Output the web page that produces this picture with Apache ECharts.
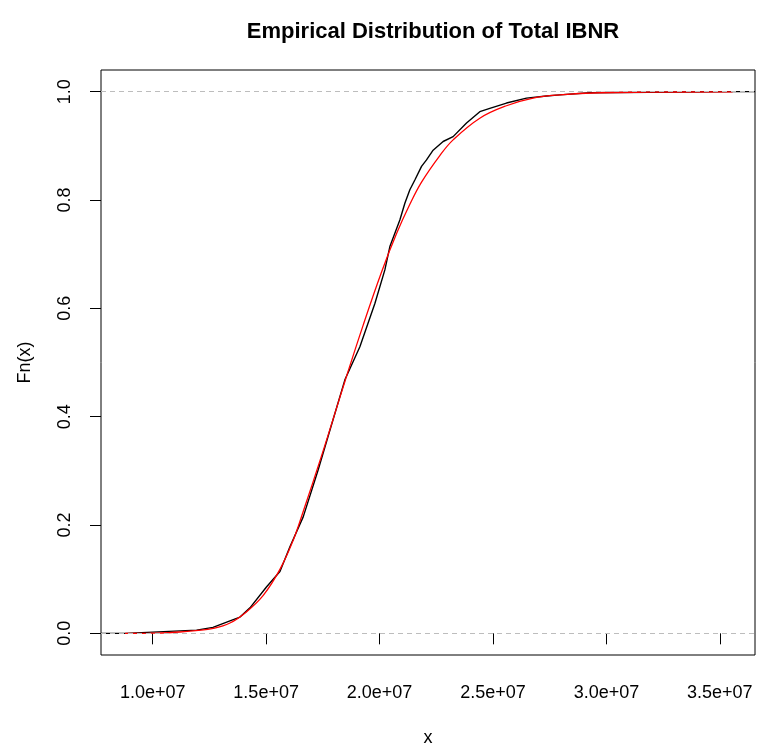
<!DOCTYPE html>
<html>
<head>
<meta charset="utf-8">
<script src="https://cdn.jsdelivr.net/npm/echarts@6/dist/echarts.min.js"></script>
<style>
html,body{margin:0;padding:0;background:#fff;}
#c{width:758px;height:744px;}
</style>
</head>
<body>
<div id="c"></div>
<script>
// Tick values and labels
var xTickValues = [1.0e7, 1.5e7, 2.0e7, 2.5e7, 3.0e7, 3.5e7];
var xTickLabels = ['1.0e+07', '1.5e+07', '2.0e+07', '2.5e+07', '3.0e+07', '3.5e+07'];
var yTickValues = [0, 0.2, 0.4, 0.6, 0.8, 1.0];
var yTickLabels = ['0.0', '0.2', '0.4', '0.6', '0.8', '1.0'];

// Empirical CDF (black)
var ecdfX = [7.72e6, 8.78e6, 1.1934e7, 1.2656e7, 1.3405e7, 1.3846e7, 1.4286e7, 1.5022e7, 1.5608e7, 1.6048e7,
  1.6634e7, 1.7295e7, 1.7811e7, 1.8471e7, 1.9132e7, 1.9793e7, 2.0233e7, 2.0454e7, 2.0894e7, 2.1115e7,
  2.1335e7, 2.1555e7, 2.1850e7, 2.2070e7, 2.2361e7, 2.2802e7, 2.3242e7, 2.3833e7, 2.4419e7, 2.4859e7,
  2.5595e7, 2.6476e7, 2.7357e7, 2.7943e7, 2.9265e7, 3.19e7, 3.5564e7, 3.655e7];
var ecdfY = [0, 0, 0.006, 0.011, 0.023, 0.030, 0.047, 0.086, 0.114, 0.160,
  0.215, 0.302, 0.375, 0.468, 0.529, 0.609, 0.671, 0.714, 0.763, 0.794,
  0.819, 0.837, 0.862, 0.874, 0.892, 0.908, 0.917, 0.942, 0.963, 0.969,
  0.979, 0.988, 0.992, 0.994, 0.998, 0.999, 1.0, 1.0];

// Fitted CDF (red)
var fitX = [8.78e6, 9.88e6, 1.12e7, 1.19e7, 1.267e7, 1.3405e7, 1.4141e7, 1.4872e7, 1.5608e7, 1.6194e7,
  1.6634e7, 1.7445e7, 1.7956e7, 1.8471e7, 1.9278e7, 2.0088e7, 2.0749e7, 2.1335e7, 2.1850e7, 2.2656e7,
  2.3242e7, 2.4419e7, 2.5595e7, 2.6767e7, 2.7943e7, 2.9705e7, 3.19e7, 3.5564e7];
var fitY = [0, 0.0002, 0.0025, 0.005, 0.009, 0.019, 0.040, 0.070, 0.118, 0.172,
  0.225, 0.328, 0.396, 0.465, 0.569, 0.667, 0.738, 0.792, 0.833, 0.882,
  0.911, 0.951, 0.974, 0.988, 0.994, 0.998, 0.9991, 0.9998];

var refLines = [0, 1];

function zip(a, b) { return a.map(function (v, i) { return [v, b[i]]; }); }

var chart = echarts.init(document.getElementById('c'), null, {renderer: 'canvas'});
var FONT = 'Liberation Sans, Arial, Helvetica, sans-serif';
chart.setOption({
  animation: false,
  backgroundColor: '#ffffff',
  title: {
    text: 'Empirical Distribution of Total IBNR',
    left: 428, top: 16, textAlign: 'center',
    textStyle: {fontFamily: FONT, fontSize: 22, fontWeight: 'bold', color: '#000'}
  },
  grid: {left: 101, top: 70, right: 3, bottom: 89, outerBoundsMode: 'none', containLabel: false,
    show: true, borderColor: '#000', borderWidth: 1, backgroundColor: 'transparent'},
  xAxis: {
    type: 'value', min: 7.72e6, max: 3.655e7,
    name: 'x', nameLocation: 'middle', nameGap: 74,
    nameTextStyle: {fontFamily: FONT, fontSize: 18, color: '#000'},
    axisLine: {show: false},
    axisTick: {show: true, inside: false, length: 11, lineStyle: {color: '#000'}, customValues: xTickValues},
    axisLabel: {fontFamily: FONT, fontSize: 18, color: '#000', margin: 29, customValues: xTickValues,
      formatter: function (v) { var i = xTickValues.indexOf(v); return i >= 0 ? xTickLabels[i] : ''; }},
    splitLine: {show: false}
  },
  yAxis: {
    type: 'value', min: -0.04, max: 1.04,
    name: 'Fn(x)', nameLocation: 'middle', nameGap: 67,
    nameTextStyle: {fontFamily: FONT, fontSize: 18, color: '#000'},
    axisLine: {show: false},
    axisTick: {show: true, inside: false, length: 11, lineStyle: {color: '#000'}, customValues: yTickValues},
    axisLabel: {fontFamily: FONT, fontSize: 18, color: '#000', margin: 27, rotate: 90, customValues: yTickValues,
      formatter: function (v) { for (var i = 0; i < yTickValues.length; i++) { if (Math.abs(yTickValues[i] - v) < 1e-9) return yTickLabels[i]; } return ''; }},
    splitLine: {show: false}
  },
  series: [
    {
      type: 'line', name: 'ecdf', data: zip(ecdfX, ecdfY), showSymbol: false, symbol: 'none',
      lineStyle: {color: '#000', width: 1.4}, z: 2,
      markLine: {
        silent: true, symbol: 'none', label: {show: false},
        lineStyle: {color: '#bdbdbd', type: [5, 4], width: 1},
        data: refLines.map(function (v) { return {yAxis: v}; })
      }
    },
    {
      type: 'line', name: 'fit', data: zip(fitX, fitY), showSymbol: false, symbol: 'none',
      smooth: 0.4,
      lineStyle: {color: '#ff0000', width: 1.3}, z: 3
    }
  ]
});
</script>
</body>
</html>
